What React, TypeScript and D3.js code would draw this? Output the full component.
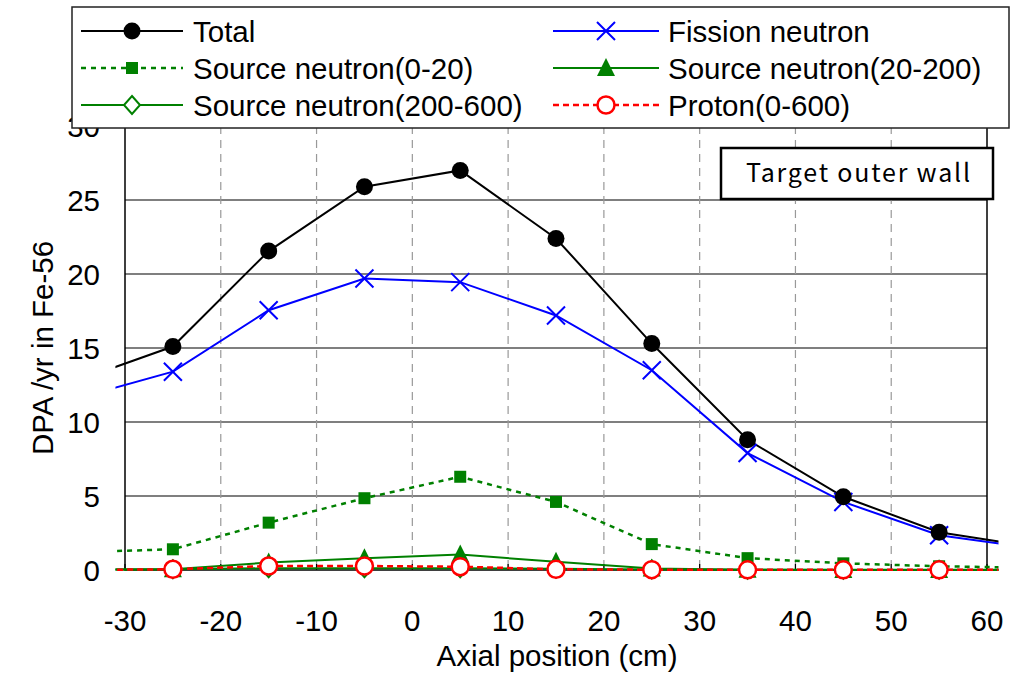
import React, { useRef, useEffect } from 'react';
import * as d3 from 'd3';

// axial positions (cm); -35 and 65 only carry the line past the frame
const positions = [-35, -25, -15, -5, 5, 15, 25, 35, 45, 55, 65];
const total = [12.8, 15.1, 21.55, 25.9, 27.0, 22.4, 15.3, 8.8, 4.95, 2.55, 1.55];
const fission = [11.6, 13.4, 17.55, 19.7, 19.45, 17.2, 13.5, 7.9, 4.6, 2.35, 1.45];
const src0_20 = [1.2, 1.4, 3.2, 4.85, 6.3, 4.6, 1.75, 0.8, 0.45, 0.25, 0.15];
const src20_200 = [0.0, 0.05, 0.5, 0.8, 1.05, 0.55, 0.1, 0.02, 0.0, 0.0, 0.0];
const src200_600 = [0.05, 0.05, 0.12, 0.12, 0.12, 0.08, 0.04, 0.02, 0.01, 0.01, 0.01];
const proton = [0.0, 0.05, 0.27, 0.27, 0.22, 0.05, 0.02, 0.01, 0.01, 0.01, 0.01];

const xTicks = [-30, -20, -10, 0, 10, 20, 30, 40, 50, 60];
const yTicks = [0, 5, 10, 15, 20, 25, 30];

const seriesList = [
  { name: 'Total', values: total, color: '#000', dash: null, marker: 'dot' },
  { name: 'Fission neutron', values: fission, color: '#0000ff', dash: null, marker: 'x' },
  { name: 'Source neutron(0-20)', values: src0_20, color: '#008000', dash: '5,5', marker: 'square' },
  { name: 'Source neutron(20-200)', values: src20_200, color: '#008000', dash: null, marker: 'triangle' },
  { name: 'Source neutron(200-600)', values: src200_600, color: '#008000', dash: null, marker: 'diamond' },
  { name: 'Proton(0-600)', values: proton, color: '#ff0000', dash: '6,4', marker: 'circle' },
];

const FONT = '"Liberation Sans", Arial, sans-serif';

function drawMarker(g, type, color, x, y) {
  if (type === 'dot') {
    g.append('circle').attr('cx', x).attr('cy', y).attr('r', 8.5).attr('fill', '#000');
  } else if (type === 'x') {
    const s = 9;
    g.append('path')
      .attr('d', `M${x - s},${y - s}L${x + s},${y + s}M${x - s},${y + s}L${x + s},${y - s}`)
      .attr('stroke', color).attr('stroke-width', 2).attr('fill', 'none');
  } else if (type === 'square') {
    g.append('rect').attr('x', x - 6).attr('y', y - 6).attr('width', 12).attr('height', 12).attr('fill', color);
  } else if (type === 'triangle') {
    g.append('path').attr('d', `M${x},${y - 10}L${x + 9},${y + 8}L${x - 9},${y + 8}Z`).attr('fill', color);
  } else if (type === 'diamond') {
    g.append('path').attr('d', `M${x},${y - 9}L${x + 8},${y}L${x},${y + 9}L${x - 8},${y}Z`)
      .attr('fill', '#fff').attr('stroke', color).attr('stroke-width', 2);
  } else if (type === 'circle') {
    g.append('circle').attr('cx', x).attr('cy', y).attr('r', 8.5)
      .attr('fill', '#fff').attr('stroke', color).attr('stroke-width', 2.5);
  }
}

export default function App() {
  const ref = useRef(null);

  useEffect(() => {
    const W = 1023, H = 674;
    const svg = d3.select(ref.current);
    svg.selectAll('*').remove();
    svg.attr('width', W).attr('height', H);

    const x = d3.scaleLinear().domain([-30, 60]).range([125, 987]);
    const y = d3.scaleLinear().domain([0, 30]).range([570, 126]);

    // grid
    svg.append('g').selectAll('line').data(yTicks.filter(t => t > 0 && t < 30)).enter()
      .append('line')
      .attr('x1', x(-30)).attr('x2', x(60))
      .attr('y1', d => y(d)).attr('y2', d => y(d))
      .attr('stroke', '#555').attr('stroke-width', 1.3);
    svg.append('g').selectAll('line').data(xTicks.filter(t => t > -30 && t < 60)).enter()
      .append('line')
      .attr('x1', d => x(d)).attr('x2', d => x(d))
      .attr('y1', y(30)).attr('y2', y(0))
      .attr('stroke', '#999').attr('stroke-width', 1.2).attr('stroke-dasharray', '8,6');

    // frame
    svg.append('rect')
      .attr('x', x(-30)).attr('y', y(30))
      .attr('width', x(60) - x(-30)).attr('height', y(0) - y(30))
      .attr('fill', 'none').attr('stroke', '#000').attr('stroke-width', 1.5);

    // small inner ticks on bottom axis
    svg.append('g').selectAll('line').data(xTicks).enter().append('line')
      .attr('x1', d => x(d)).attr('x2', d => x(d))
      .attr('y1', y(0)).attr('y2', y(0) - 6)
      .attr('stroke', '#000').attr('stroke-width', 1.2);

    // tick labels
    svg.append('g').selectAll('text').data(xTicks).enter().append('text')
      .attr('x', d => x(d)).attr('y', 631)
      .attr('text-anchor', 'middle')
      .attr('font-family', FONT).attr('font-size', 29.5)
      .text(d => d);
    svg.append('g').selectAll('text').data(yTicks).enter().append('text')
      .attr('x', 100).attr('y', d => y(d) + 10.5)
      .attr('text-anchor', 'end')
      .attr('font-family', FONT).attr('font-size', 29.5)
      .text(d => d);

    svg.append('text')
      .attr('x', 557).attr('y', 666)
      .attr('text-anchor', 'middle')
      .attr('font-family', FONT).attr('font-size', 29.5)
      .text('Axial position (cm)');
    svg.append('text')
      .attr('transform', `translate(53,${348}) rotate(-90)`)
      .attr('text-anchor', 'middle')
      .attr('font-family', FONT).attr('font-size', 29.5)
      .text('DPA /yr in Fe-56');

    // series
    const clipId = 'plotclip';
    svg.append('clipPath').attr('id', clipId)
      .append('rect')
      .attr('x', x(-31)).attr('y', 0)
      .attr('width', x(61.2) - x(-31)).attr('height', H);

    const line = d3.line()
      .x(d => x(d[0]))
      .y(d => y(d[1]));

    const order = [4, 3, 2, 5, 1, 0];
    order.forEach(i => {
      const s = seriesList[i];
      const pts = positions.map((p, k) => [p, s.values[k]]);
      const path = svg.append('path')
        .attr('clip-path', `url(#${clipId})`)
        .attr('d', line(pts))
        .attr('fill', 'none')
        .attr('stroke', s.color)
        .attr('stroke-width', s.dash ? 2.5 : 2);
      if (s.dash) path.attr('stroke-dasharray', s.dash);
    });
    order.forEach(i => {
      const s = seriesList[i];
      const g = svg.append('g');
      positions.forEach((p, k) => {
        if (p < -30 || p > 60) return;
        drawMarker(g, s.marker, s.color, x(p), y(s.values[k]));
      });
    });

    // annotation box
    svg.append('rect')
      .attr('x', 721).attr('y', 148).attr('width', 272).attr('height', 51)
      .attr('fill', '#fff').attr('stroke', '#000').attr('stroke-width', 2.5);
    svg.append('text')
      .attr('x', 746).attr('y', 182)
      .attr('font-family', '"Noto Sans CJK JP", sans-serif').attr('font-size', 25)
      .attr('textLength', 224).attr('lengthAdjust', 'spacing')
      .text('Target outer wall');

    // legend
    const leg = svg.append('g');
    leg.append('rect')
      .attr('x', 72).attr('y', 7).attr('width', 937).attr('height', 121)
      .attr('fill', '#fff').attr('stroke', '#222').attr('stroke-width', 1.5);
    const cols = [{ x0: 81, x1: 183, tx: 193 }, { x0: 553, x1: 659, tx: 668 }];
    const rows = [31, 68, 105];
    seriesList.forEach((s, i) => {
      const c = cols[i % 2];
      const ry = rows[Math.floor(i / 2)];
      const l = leg.append('line')
        .attr('x1', c.x0).attr('x2', c.x1).attr('y1', ry).attr('y2', ry)
        .attr('stroke', s.color).attr('stroke-width', s.dash ? 2.5 : 2);
      if (s.dash) l.attr('stroke-dasharray', s.dash);
      drawMarker(leg, s.marker, s.color, (c.x0 + c.x1) / 2, ry);
      leg.append('text')
        .attr('x', c.tx).attr('y', ry + 11)
        .attr('font-family', FONT).attr('font-size', 29.5)
        .text(s.name);
    });
  }, []);

  return (
    <svg ref={ref} style={{ position: 'absolute', top: 0, left: 0, display: 'block', background: '#fff' }}></svg>
  );
}
